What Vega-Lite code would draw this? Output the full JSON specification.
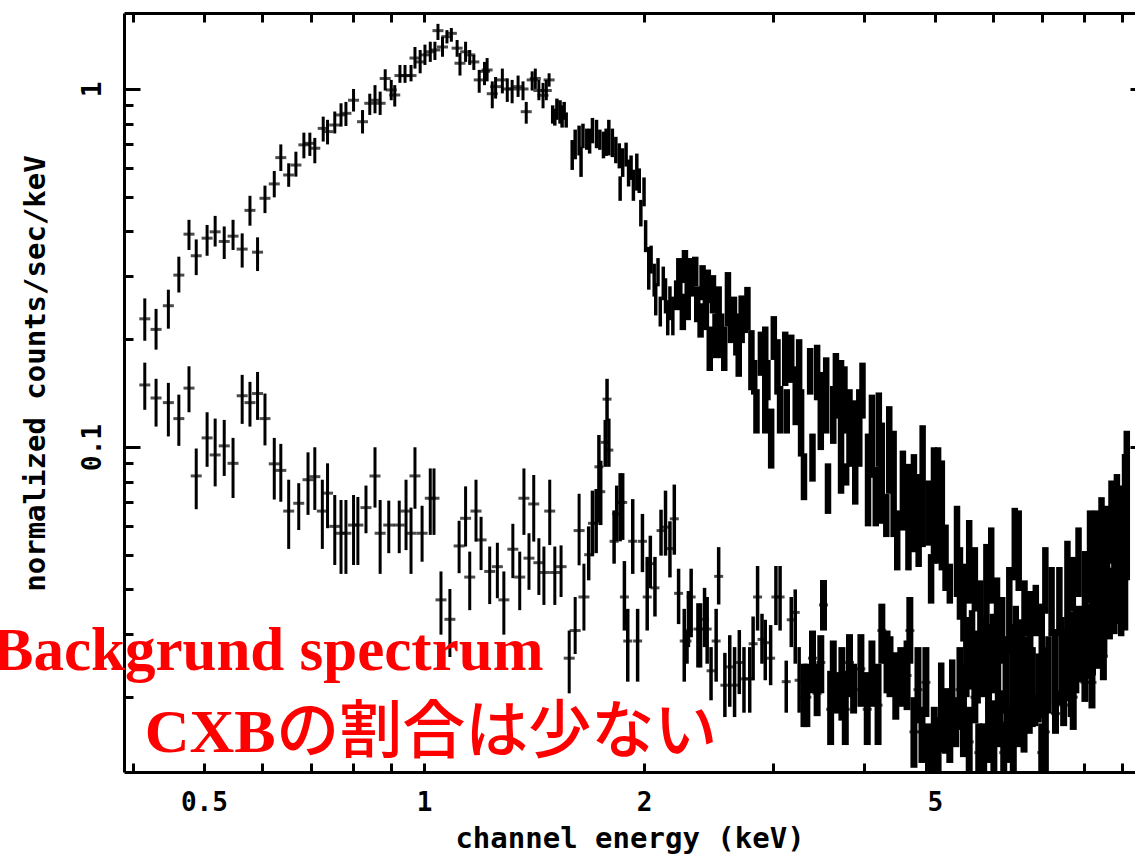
{"$schema":"https://vega.github.io/schema/vega-lite/v6.json","width":1011,"height":759,"autosize":"none","padding":{"left":124,"top":13,"right":0,"bottom":86},"background":"white","view":{"stroke":null},
"datasets":{"sparse":[
{"keV":0.415,"rate":0.228,"lo":0.198,"hi":0.26},{"keV":0.43,"rate":0.213,"lo":0.187,"hi":0.243},{"keV":0.447,"rate":0.248,"lo":0.214,"hi":0.275},{"keV":0.462,"rate":0.302,"lo":0.27,"hi":0.34},{"keV":0.477,"rate":0.393,"lo":0.355,"hi":0.431},{"keV":0.488,"rate":0.342,"lo":0.302,"hi":0.38},{"keV":0.505,"rate":0.383,"lo":0.342,"hi":0.417},{"keV":0.518,"rate":0.399,"lo":0.363,"hi":0.442},{"keV":0.533,"rate":0.375,"lo":0.335,"hi":0.413},{"keV":0.548,"rate":0.388,"lo":0.355,"hi":0.431},{"keV":0.564,"rate":0.357,"lo":0.317,"hi":0.395},{"keV":0.578,"rate":0.458,"lo":0.415,"hi":0.503},{"keV":0.592,"rate":0.35,"lo":0.31,"hi":0.385},{"keV":0.606,"rate":0.495,"lo":0.45,"hi":0.537},{"keV":0.624,"rate":0.543,"lo":0.498,"hi":0.59},{"keV":0.637,"rate":0.643,"lo":0.59,"hi":0.7},{"keV":0.653,"rate":0.575,"lo":0.533,"hi":0.62},{"keV":0.668,"rate":0.613,"lo":0.569,"hi":0.668},{"keV":0.685,"rate":0.698,"lo":0.64,"hi":0.755},{"keV":0.698,"rate":0.705,"lo":0.65,"hi":0.755},{"keV":0.709,"rate":0.683,"lo":0.62,"hi":0.73},{"keV":0.728,"rate":0.776,"lo":0.713,"hi":0.837},{"keV":0.738,"rate":0.76,"lo":0.7,"hi":0.82},{"keV":0.755,"rate":0.793,"lo":0.751,"hi":0.865},{"keV":0.77,"rate":0.846,"lo":0.785,"hi":0.912},{"keV":0.782,"rate":0.855,"lo":0.788,"hi":0.92},{"keV":0.801,"rate":0.93,"lo":0.865,"hi":1.0},{"keV":0.824,"rate":0.81,"lo":0.751,"hi":0.873},{"keV":0.843,"rate":0.912,"lo":0.846,"hi":0.97},{"keV":0.857,"rate":0.93,"lo":0.855,"hi":1.025},{"keV":0.871,"rate":0.912,"lo":0.846,"hi":0.983},{"keV":0.885,"rate":1.07,"lo":0.99,"hi":1.135},{"keV":0.902,"rate":0.994,"lo":0.93,"hi":1.06},{"keV":0.912,"rate":0.962,"lo":0.893,"hi":1.025},{"keV":0.927,"rate":1.09,"lo":1.04,"hi":1.167},{"keV":0.942,"rate":1.09,"lo":1.04,"hi":1.167},{"keV":0.96,"rate":1.09,"lo":1.05,"hi":1.167},{"keV":0.972,"rate":1.22,"lo":1.14,"hi":1.31},{"keV":0.988,"rate":1.19,"lo":1.106,"hi":1.285},{"keV":1.003,"rate":1.245,"lo":1.167,"hi":1.33},{"keV":1.02,"rate":1.27,"lo":1.19,"hi":1.355},{"keV":1.035,"rate":1.285,"lo":1.205,"hi":1.355},{"keV":1.045,"rate":1.455,"lo":1.37,"hi":1.52},{"keV":1.06,"rate":1.31,"lo":1.23,"hi":1.4},{"keV":1.075,"rate":1.4,"lo":1.34,"hi":1.46},{"keV":1.09,"rate":1.43,"lo":1.355,"hi":1.48},{"keV":1.11,"rate":1.3,"lo":1.23,"hi":1.37},{"keV":1.12,"rate":1.18,"lo":1.09,"hi":1.26},{"keV":1.14,"rate":1.27,"lo":1.19,"hi":1.355},{"keV":1.155,"rate":1.245,"lo":1.167,"hi":1.285},{"keV":1.17,"rate":1.19,"lo":1.13,"hi":1.245},{"keV":1.19,"rate":1.06,"lo":0.976,"hi":1.13},{"keV":1.21,"rate":1.12,"lo":1.025,"hi":1.19},{"keV":1.22,"rate":1.13,"lo":1.05,"hi":1.22},{"keV":1.24,"rate":0.97,"lo":0.883,"hi":1.05},{"keV":1.253,"rate":1.015,"lo":0.94,"hi":1.08},{"keV":1.28,"rate":1.06,"lo":0.972,"hi":1.14},{"keV":1.3,"rate":1.0,"lo":0.92,"hi":1.07},{"keV":1.32,"rate":1.0,"lo":0.912,"hi":1.06},{"keV":1.345,"rate":1.015,"lo":0.95,"hi":1.09},{"keV":1.366,"rate":1.0,"lo":0.93,"hi":1.05},{"keV":1.38,"rate":0.864,"lo":0.8,"hi":0.92},{"keV":1.406,"rate":1.06,"lo":0.99,"hi":1.12},{"keV":1.42,"rate":1.07,"lo":1.0,"hi":1.14},{"keV":1.436,"rate":0.99,"lo":0.93,"hi":1.06},{"keV":1.455,"rate":0.96,"lo":0.883,"hi":1.04},{"keV":1.47,"rate":0.99,"lo":0.93,"hi":1.06},{"keV":1.483,"rate":1.06,"lo":1.015,"hi":1.106},
{"keV":0.415,"rate":0.149,"lo":0.127,"hi":0.172},{"keV":0.43,"rate":0.137,"lo":0.114,"hi":0.155},{"keV":0.447,"rate":0.133,"lo":0.107,"hi":0.151},{"keV":0.462,"rate":0.12,"lo":0.1007,"hi":0.14},{"keV":0.477,"rate":0.146,"lo":0.125,"hi":0.168},{"keV":0.488,"rate":0.083,"lo":0.067,"hi":0.099},{"keV":0.505,"rate":0.106,"lo":0.088,"hi":0.125},{"keV":0.518,"rate":0.095,"lo":0.0776,"hi":0.12},{"keV":0.533,"rate":0.1007,"lo":0.083,"hi":0.119},{"keV":0.548,"rate":0.09,"lo":0.072,"hi":0.106},{"keV":0.564,"rate":0.139,"lo":0.116,"hi":0.159},{"keV":0.578,"rate":0.133,"lo":0.114,"hi":0.152},{"keV":0.592,"rate":0.141,"lo":0.119,"hi":0.162},{"keV":0.606,"rate":0.12,"lo":0.101,"hi":0.141},{"keV":0.624,"rate":0.0897,"lo":0.0713,"hi":0.106},{"keV":0.637,"rate":0.086,"lo":0.0703,"hi":0.102},{"keV":0.653,"rate":0.0662,"lo":0.0519,"hi":0.081},{"keV":0.674,"rate":0.0696,"lo":0.0586,"hi":0.0792},{"keV":0.694,"rate":0.081,"lo":0.0646,"hi":0.0966},{"keV":0.709,"rate":0.0826,"lo":0.0667,"hi":0.0998},{"keV":0.726,"rate":0.0662,"lo":0.0519,"hi":0.081},{"keV":0.738,"rate":0.0743,"lo":0.0593,"hi":0.09},{"keV":0.755,"rate":0.06,"lo":0.0468,"hi":0.0734},{"keV":0.77,"rate":0.0574,"lo":0.0442,"hi":0.0711},{"keV":0.782,"rate":0.0574,"lo":0.0442,"hi":0.0711},{"keV":0.801,"rate":0.0605,"lo":0.0468,"hi":0.0734},{"keV":0.812,"rate":0.0605,"lo":0.0468,"hi":0.0725},{"keV":0.833,"rate":0.0677,"lo":0.0574,"hi":0.078},{"keV":0.857,"rate":0.083,"lo":0.0677,"hi":0.0998},{"keV":0.871,"rate":0.0574,"lo":0.0442,"hi":0.0711},{"keV":0.895,"rate":0.0605,"lo":0.0505,"hi":0.0708},{"keV":0.925,"rate":0.0605,"lo":0.0505,"hi":0.0708},{"keV":0.945,"rate":0.0662,"lo":0.0515,"hi":0.081},{"keV":0.96,"rate":0.0574,"lo":0.0442,"hi":0.0677},{"keV":0.972,"rate":0.083,"lo":0.0672,"hi":0.0998},{"keV":0.994,"rate":0.0574,"lo":0.0478,"hi":0.0685},{"keV":1.02,"rate":0.0719,"lo":0.0568,"hi":0.0871},{"keV":1.032,"rate":0.0719,"lo":0.0568,"hi":0.0871},{"keV":1.055,"rate":0.0374,"lo":0.0299,"hi":0.0449},{"keV":1.085,"rate":0.033,"lo":0.0259,"hi":0.0401},{"keV":1.117,"rate":0.0529,"lo":0.0444,"hi":0.0622},{"keV":1.14,"rate":0.0632,"lo":0.0527,"hi":0.0776},{"keV":1.155,"rate":0.0433,"lo":0.035,"hi":0.051},{"keV":1.178,"rate":0.0662,"lo":0.0544,"hi":0.081},{"keV":1.197,"rate":0.055,"lo":0.0453,"hi":0.0638},{"keV":1.23,"rate":0.0449,"lo":0.0364,"hi":0.0527},{"keV":1.26,"rate":0.0463,"lo":0.0378,"hi":0.054},{"keV":1.286,"rate":0.0374,"lo":0.0299,"hi":0.0449},{"keV":1.323,"rate":0.0518,"lo":0.043,"hi":0.061},{"keV":1.352,"rate":0.0433,"lo":0.035,"hi":0.051},{"keV":1.37,"rate":0.0719,"lo":0.0568,"hi":0.0871},{"keV":1.392,"rate":0.0489,"lo":0.0399,"hi":0.0574},{"keV":1.413,"rate":0.0693,"lo":0.0544,"hi":0.0835},{"keV":1.436,"rate":0.0475,"lo":0.0386,"hi":0.0556},{"keV":1.459,"rate":0.0446,"lo":0.0362,"hi":0.0527},{"keV":1.486,"rate":0.0662,"lo":0.0532,"hi":0.081},{"keV":1.51,"rate":0.0446,"lo":0.0362,"hi":0.0527},{"keV":1.54,"rate":0.0463,"lo":0.0381,"hi":0.0531},{"keV":1.58,"rate":0.0257,"lo":0.0205,"hi":0.0307},{"keV":1.61,"rate":0.0307,"lo":0.0264,"hi":0.0381},{"keV":1.63,"rate":0.0584,"lo":0.0467,"hi":0.074},{"keV":1.655,"rate":0.0381,"lo":0.0307,"hi":0.0472}
],
"dense":[
{"keV":1.5,"lo":0.8,"hi":0.9},{"keV":1.51,"lo":0.79,"hi":0.88},{"keV":1.52,"lo":0.82,"hi":0.94},{"keV":1.535,"lo":0.8,"hi":0.93},{"keV":1.545,"lo":0.78,"hi":0.9},{"keV":1.555,"lo":0.82,"hi":0.92},{"keV":1.565,"lo":0.78,"hi":0.86},
{"keV":1.595,"lo":0.594,"hi":0.72},{"keV":1.61,"lo":0.636,"hi":0.77},{"keV":1.63,"lo":0.652,"hi":0.79},{"keV":1.64,"lo":0.568,"hi":0.69},{"keV":1.65,"lo":0.683,"hi":0.8},{"keV":1.67,"lo":0.676,"hi":0.775},{"keV":1.685,"lo":0.66,"hi":0.775},{"keV":1.7,"lo":0.705,"hi":0.83},{"keV":1.722,"lo":0.683,"hi":0.82},{"keV":1.74,"lo":0.676,"hi":0.77},{"keV":1.76,"lo":0.64,"hi":0.76},{"keV":1.775,"lo":0.65,"hi":0.775},{"keV":1.79,"lo":0.652,"hi":0.82},{"keV":1.81,"lo":0.645,"hi":0.775},{"keV":1.83,"lo":0.62,"hi":0.735},{"keV":1.85,"lo":0.6,"hi":0.705},{"keV":1.855,"lo":0.487,"hi":0.57},{"keV":1.87,"lo":0.568,"hi":0.683},{"keV":1.89,"lo":0.607,"hi":0.708},{"keV":1.905,"lo":0.534,"hi":0.635},{"keV":1.92,"lo":0.557,"hi":0.652},{"keV":1.934,"lo":0.487,"hi":0.595},{"keV":1.955,"lo":0.52,"hi":0.66},{"keV":1.97,"lo":0.512,"hi":0.6},{"keV":1.98,"lo":0.413,"hi":0.49},{"keV":2.0,"lo":0.47,"hi":0.566},{"keV":2.01,"lo":0.35,"hi":0.43},{"keV":2.03,"lo":0.275,"hi":0.362},{"keV":2.045,"lo":0.305,"hi":0.365},{"keV":2.065,"lo":0.263,"hi":0.325},{"keV":2.075,"lo":0.233,"hi":0.287},{"keV":2.09,"lo":0.281,"hi":0.337},{"keV":2.105,"lo":0.217,"hi":0.263},{"keV":2.125,"lo":0.257,"hi":0.319},{"keV":2.14,"lo":0.236,"hi":0.296},{"keV":2.155,"lo":0.205,"hi":0.257},{"keV":2.17,"lo":0.226,"hi":0.281},{"keV":2.19,"lo":0.205,"hi":0.263},{"keV":2.22,"lo":0.241,"hi":0.292},{"keV":2.235,"lo":0.257,"hi":0.337},{"keV":2.26,"lo":0.212,"hi":0.268},{"keV":2.275,"lo":0.287,"hi":0.355},{"keV":2.295,"lo":0.226,"hi":0.3},{"keV":2.32,"lo":0.263,"hi":0.337},{"keV":2.35,"lo":0.281,"hi":0.34},{"keV":2.365,"lo":0.223,"hi":0.281},{"keV":2.39,"lo":0.202,"hi":0.252},{"keV":2.405,"lo":0.257,"hi":0.322},{"keV":2.43,"lo":0.212,"hi":0.275},{"keV":2.445,"lo":0.252,"hi":0.313},{"keV":2.46,"lo":0.163,"hi":0.217},{"keV":2.485,"lo":0.236,"hi":0.302},{"keV":2.505,"lo":0.177,"hi":0.236},{"keV":2.53,"lo":0.217,"hi":0.281},{"keV":2.55,"lo":0.177,"hi":0.236},{"keV":2.575,"lo":0.163,"hi":0.217},{"keV":2.605,"lo":0.217,"hi":0.308},{"keV":2.63,"lo":0.195,"hi":0.257},{"keV":2.655,"lo":0.208,"hi":0.263},{"keV":2.675,"lo":0.18,"hi":0.236},{"keV":2.695,"lo":0.157,"hi":0.212},{"keV":2.72,"lo":0.195,"hi":0.265},{"keV":2.75,"lo":0.208,"hi":0.257},{"keV":2.77,"lo":0.212,"hi":0.28},{"keV":2.805,"lo":0.144,"hi":0.212},{"keV":2.83,"lo":0.14,"hi":0.175},{"keV":2.85,"lo":0.109,"hi":0.145},{"keV":2.89,"lo":0.158,"hi":0.21},{"keV":2.93,"lo":0.109,"hi":0.217},{"keV":2.95,"lo":0.135,"hi":0.175},{"keV":2.985,"lo":0.087,"hi":0.128},{"keV":3.01,"lo":0.175,"hi":0.232},{"keV":3.045,"lo":0.14,"hi":0.2},{"keV":3.07,"lo":0.109,"hi":0.148},{"keV":3.12,"lo":0.148,"hi":0.21},{"keV":3.135,"lo":0.109,"hi":0.145},{"keV":3.18,"lo":0.151,"hi":0.206},{"keV":3.225,"lo":0.115,"hi":0.168},{"keV":3.26,"lo":0.14,"hi":0.2},{"keV":3.28,"lo":0.094,"hi":0.145},{"keV":3.31,"lo":0.071,"hi":0.096},{"keV":3.375,"lo":0.14,"hi":0.189},{"keV":3.4,"lo":0.08,"hi":0.109},{"keV":3.45,"lo":0.135,"hi":0.193},{"keV":3.49,"lo":0.098,"hi":0.162},{"keV":3.55,"lo":0.109,"hi":0.178},{"keV":3.57,"lo":0.065,"hi":0.09},{"keV":3.63,"lo":0.102,"hi":0.148},{"keV":3.66,"lo":0.12,"hi":0.183},{"keV":3.72,"lo":0.074,"hi":0.175},{"keV":3.76,"lo":0.109,"hi":0.168},{"keV":3.78,"lo":0.078,"hi":0.09},{"keV":3.82,"lo":0.088,"hi":0.145},{"keV":3.89,"lo":0.069,"hi":0.135},{"keV":3.94,"lo":0.088,"hi":0.145},{"keV":3.98,"lo":0.12,"hi":0.172},{"keV":4.05,"lo":0.06,"hi":0.109},{"keV":4.1,"lo":0.082,"hi":0.14},{"keV":4.15,"lo":0.06,"hi":0.088},{"keV":4.19,"lo":0.088,"hi":0.142},{"keV":4.23,"lo":0.061,"hi":0.117},{"keV":4.29,"lo":0.056,"hi":0.074},{"keV":4.33,"lo":0.074,"hi":0.13},{"keV":4.39,"lo":0.056,"hi":0.111},{"keV":4.44,"lo":0.0452,"hi":0.0665},{"keV":4.52,"lo":0.0584,"hi":0.0977},{"keV":4.6,"lo":0.0452,"hi":0.0897},{"keV":4.68,"lo":0.0508,"hi":0.0955},{"keV":4.75,"lo":0.0462,"hi":0.084},{"keV":4.81,"lo":0.0525,"hi":0.115},{"keV":4.9,"lo":0.053,"hi":0.0806},{"keV":4.94,"lo":0.0365,"hi":0.0502},{"keV":4.985,"lo":0.0472,"hi":0.0998},{"keV":5.05,"lo":0.0472,"hi":0.0998},{"keV":5.11,"lo":0.0452,"hi":0.0917},{"keV":5.17,"lo":0.0396,"hi":0.0607},{"keV":5.24,"lo":0.0365,"hi":0.0472},{"keV":5.36,"lo":0.0381,"hi":0.0685},{"keV":5.41,"lo":0.0329,"hi":0.0525},{"keV":5.47,"lo":0.0286,"hi":0.0472},{"keV":5.57,"lo":0.0365,"hi":0.0625},{"keV":5.67,"lo":0.0347,"hi":0.0525},{"keV":5.77,"lo":0.0276,"hi":0.0424},{"keV":5.88,"lo":0.0318,"hi":0.0536},{"keV":5.97,"lo":0.0365,"hi":0.0596},{"keV":6.08,"lo":0.0296,"hi":0.0432},{"keV":6.18,"lo":0.0248,"hi":0.0381},{"keV":6.32,"lo":0.0265,"hi":0.0462},{"keV":6.43,"lo":0.0424,"hi":0.0676},{"keV":6.51,"lo":0.0396,"hi":0.0665},{"keV":6.63,"lo":0.0296,"hi":0.0424},{"keV":6.75,"lo":0.0265,"hi":0.0396},{"keV":6.87,"lo":0.0296,"hi":0.0412},{"keV":7.0,"lo":0.0237,"hi":0.0365},{"keV":7.08,"lo":0.0342,"hi":0.0525},{"keV":7.22,"lo":0.0296,"hi":0.0462},{"keV":7.4,"lo":0.0296,"hi":0.0462},{"keV":7.59,"lo":0.0307,"hi":0.0547},{"keV":7.72,"lo":0.0347,"hi":0.0493},{"keV":7.86,"lo":0.0381,"hi":0.0596},{"keV":8.02,"lo":0.0325,"hi":0.0512},{"keV":8.15,"lo":0.0365,"hi":0.0665},{"keV":8.3,"lo":0.0365,"hi":0.0665},{"keV":8.45,"lo":0.0381,"hi":0.0724},{"keV":8.6,"lo":0.0396,"hi":0.0685},{"keV":8.72,"lo":0.0472,"hi":0.0806},{"keV":8.87,"lo":0.0472,"hi":0.084},{"keV":8.99,"lo":0.0296,"hi":0.078},{"keV":9.1,"lo":0.0307,"hi":0.0955},{"keV":9.15,"lo":0.0424,"hi":0.111},
{"keV":5.1,"lo":0.014,"hi":0.025},{"keV":5.28,"lo":0.0155,"hi":0.0255},{"keV":5.52,"lo":0.02,"hi":0.0335},{"keV":5.62,"lo":0.021,"hi":0.035},{"keV":5.72,"lo":0.0192,"hi":0.0307},{"keV":5.82,"lo":0.02,"hi":0.0335},{"keV":5.92,"lo":0.018,"hi":0.032},{"keV":6.0,"lo":0.0205,"hi":0.0342},{"keV":6.1,"lo":0.019,"hi":0.032},{"keV":6.25,"lo":0.018,"hi":0.0296},{"keV":6.38,"lo":0.018,"hi":0.032},{"keV":6.45,"lo":0.017,"hi":0.036},{"keV":6.57,"lo":0.018,"hi":0.033},{"keV":6.68,"lo":0.017,"hi":0.0296},{"keV":6.8,"lo":0.0165,"hi":0.0276},{"keV":6.93,"lo":0.017,"hi":0.0265},{"keV":7.04,"lo":0.0175,"hi":0.0276},{"keV":7.15,"lo":0.018,"hi":0.0296},{"keV":7.3,"lo":0.019,"hi":0.031},{"keV":7.45,"lo":0.019,"hi":0.0335},{"keV":7.53,"lo":0.0195,"hi":0.031},{"keV":7.65,"lo":0.02,"hi":0.0347},{"keV":7.8,"lo":0.0205,"hi":0.036},{"keV":7.95,"lo":0.022,"hi":0.036},{"keV":8.08,"lo":0.0225,"hi":0.0365},{"keV":8.22,"lo":0.023,"hi":0.038},{"keV":8.38,"lo":0.024,"hi":0.04},{"keV":8.52,"lo":0.026,"hi":0.042},{"keV":8.67,"lo":0.029,"hi":0.046},{"keV":8.8,"lo":0.03,"hi":0.048},{"keV":8.93,"lo":0.032,"hi":0.055},
{"keV":1.68,"rate":0.05,"lo":0.0424,"hi":0.06},{"keV":1.7,"rate":0.0612,"lo":0.0495,"hi":0.0755},{"keV":1.72,"rate":0.0612,"lo":0.0505,"hi":0.0763},{"keV":1.735,"rate":0.088,"lo":0.0616,"hi":0.108},{"keV":1.745,"rate":0.075,"lo":0.0605,"hi":0.0915},{"keV":1.78,"rate":0.136,"lo":0.118,"hi":0.155},{"keV":1.77,"rate":0.103,"lo":0.088,"hi":0.119},{"keV":1.79,"rate":0.098,"lo":0.088,"hi":0.12},{"keV":1.82,"rate":0.0545,"lo":0.0472,"hi":0.0665},{"keV":1.835,"rate":0.065,"lo":0.0545,"hi":0.078},{"keV":1.855,"rate":0.07,"lo":0.0545,"hi":0.0845},{"keV":1.87,"rate":0.07,"lo":0.055,"hi":0.0845},{"keV":1.88,"rate":0.0381,"lo":0.0307,"hi":0.048},{"keV":1.9,"rate":0.0287,"lo":0.0221,"hi":0.0353},{"keV":1.93,"rate":0.0545,"lo":0.0442,"hi":0.0715},{"keV":1.96,"rate":0.0287,"lo":0.0221,"hi":0.0353},{"keV":1.99,"rate":0.0545,"lo":0.0447,"hi":0.065},{"keV":2.02,"rate":0.0381,"lo":0.0307,"hi":0.0493},{"keV":2.04,"rate":0.0472,"lo":0.0403,"hi":0.0565},{"keV":2.07,"rate":0.0404,"lo":0.0336,"hi":0.0493},{"keV":2.11,"rate":0.0584,"lo":0.0497,"hi":0.0668},{"keV":2.14,"rate":0.0597,"lo":0.0497,"hi":0.0755},{"keV":2.17,"rate":0.052,"lo":0.0432,"hi":0.062},{"keV":2.2,"rate":0.063,"lo":0.05,"hi":0.0785},{"keV":2.23,"rate":0.039,"lo":0.032,"hi":0.0457},{"keV":2.27,"rate":0.0287,"lo":0.0221,"hi":0.0353},{"keV":2.29,"rate":0.0287,"lo":0.0248,"hi":0.0307},{"keV":2.3,"rate":0.0307,"lo":0.0276,"hi":0.0396},{"keV":2.32,"rate":0.0381,"lo":0.0294,"hi":0.0457},{"keV":2.37,"rate":0.031,"lo":0.0242,"hi":0.0366},{"keV":2.39,"rate":0.031,"lo":0.0242,"hi":0.0366},{"keV":2.42,"rate":0.033,"lo":0.0276,"hi":0.0404},{"keV":2.44,"rate":0.031,"lo":0.0248,"hi":0.0381},{"keV":2.47,"rate":0.0237,"lo":0.0196,"hi":0.0276},{"keV":2.51,"rate":0.0287,"lo":0.0221,"hi":0.0353},{"keV":2.53,"rate":0.0435,"lo":0.0363,"hi":0.0525},{"keV":2.58,"rate":0.0216,"lo":0.0176,"hi":0.0266},{"keV":2.62,"rate":0.0243,"lo":0.0188,"hi":0.0298},{"keV":2.66,"rate":0.0216,"lo":0.0176,"hi":0.0276},{"keV":2.7,"rate":0.025,"lo":0.0204,"hi":0.0308},{"keV":2.74,"rate":0.0225,"lo":0.0181,"hi":0.0276},{"keV":2.79,"rate":0.0225,"lo":0.0181,"hi":0.0276},{"keV":2.82,"rate":0.0282,"lo":0.0223,"hi":0.0336},{"keV":2.86,"rate":0.0381,"lo":0.0307,"hi":0.0465},{"keV":2.9,"rate":0.029,"lo":0.0248,"hi":0.0342},{"keV":2.93,"rate":0.0284,"lo":0.0223,"hi":0.0329},{"keV":2.98,"rate":0.0257,"lo":0.0216,"hi":0.0318},{"keV":3.03,"rate":0.0381,"lo":0.0318,"hi":0.0465},{"keV":3.07,"rate":0.0381,"lo":0.0307,"hi":0.0465},{"keV":3.13,"rate":0.0221,"lo":0.0181,"hi":0.0253},{"keV":3.18,"rate":0.0329,"lo":0.0276,"hi":0.0381},{"keV":3.22,"rate":0.0345,"lo":0.0248,"hi":0.04},{"keV":3.26,"rate":0.0223,"lo":0.0181,"hi":0.0276},{"keV":3.31,"rate":0.02,"lo":0.0165,"hi":0.0248},{"keV":3.34,"rate":0.02,"lo":0.0165,"hi":0.0248},{"keV":3.4,"rate":0.0257,"lo":0.0205,"hi":0.0307},{"keV":3.45,"rate":0.0205,"lo":0.0177,"hi":0.0248},{"keV":3.49,"rate":0.025,"lo":0.0205,"hi":0.0298},{"keV":3.52,"rate":0.0362,"lo":0.0307,"hi":0.0425},{"keV":3.6,"rate":0.0185,"lo":0.0147,"hi":0.0237},{"keV":3.63,"rate":0.023,"lo":0.0189,"hi":0.0288},{"keV":3.67,"rate":0.021,"lo":0.018,"hi":0.0235},{"keV":3.73,"rate":0.022,"lo":0.0172,"hi":0.0276},{"keV":3.77,"rate":0.0185,"lo":0.0147,"hi":0.0237},{"keV":3.82,"rate":0.025,"lo":0.02,"hi":0.03},{"keV":3.87,"rate":0.021,"lo":0.018,"hi":0.0248},{"keV":3.96,"rate":0.024,"lo":0.0188,"hi":0.03},{"keV":4.04,"rate":0.0185,"lo":0.0147,"hi":0.0235},{"keV":4.1,"rate":0.023,"lo":0.0188,"hi":0.0288},{"keV":4.18,"rate":0.019,"lo":0.0147,"hi":0.0248},{"keV":4.23,"rate":0.0307,"lo":0.0248,"hi":0.0365},{"keV":4.3,"rate":0.025,"lo":0.0205,"hi":0.0307},{"keV":4.34,"rate":0.024,"lo":0.02,"hi":0.0296},{"keV":4.42,"rate":0.021,"lo":0.0173,"hi":0.0267},{"keV":4.49,"rate":0.023,"lo":0.0188,"hi":0.0276},{"keV":4.58,"rate":0.023,"lo":0.0184,"hi":0.0288},{"keV":4.62,"rate":0.0307,"lo":0.0248,"hi":0.0381},{"keV":4.68,"rate":0.016,"lo":0.0127,"hi":0.02},{"keV":4.74,"rate":0.021,"lo":0.0169,"hi":0.0276},{"keV":4.8,"rate":0.016,"lo":0.0131,"hi":0.0188},{"keV":4.86,"rate":0.022,"lo":0.0176,"hi":0.0276},{"keV":4.9,"rate":0.0145,"lo":0.0122,"hi":0.0169},{"keV":4.99,"rate":0.015,"lo":0.012,"hi":0.0188},{"keV":5.05,"rate":0.0145,"lo":0.012,"hi":0.0176},{"keV":5.17,"rate":0.017,"lo":0.0139,"hi":0.0212},{"keV":5.24,"rate":0.016,"lo":0.0131,"hi":0.02},{"keV":5.34,"rate":0.017,"lo":0.0145,"hi":0.02},{"keV":5.41,"rate":0.021,"lo":0.0162,"hi":0.0276},{"keV":5.47,"rate":0.018,"lo":0.0136,"hi":0.0248},{"keV":5.57,"rate":0.015,"lo":0.012,"hi":0.0188},{"keV":5.67,"rate":0.02,"lo":0.0169,"hi":0.0248},{"keV":5.74,"rate":0.014,"lo":0.012,"hi":0.0169},{"keV":5.83,"rate":0.014,"lo":0.012,"hi":0.0169},{"keV":5.92,"rate":0.016,"lo":0.0131,"hi":0.0209},{"keV":6.02,"rate":0.015,"lo":0.012,"hi":0.0196},{"keV":6.14,"rate":0.017,"lo":0.0145,"hi":0.0209},{"keV":6.21,"rate":0.014,"lo":0.012,"hi":0.0169},{"keV":6.28,"rate":0.0155,"lo":0.0131,"hi":0.0188},{"keV":6.4,"rate":0.015,"lo":0.012,"hi":0.02},{"keV":6.5,"rate":0.017,"lo":0.0145,"hi":0.02},{"keV":6.62,"rate":0.016,"lo":0.014,"hi":0.0185},{"keV":6.73,"rate":0.018,"lo":0.0158,"hi":0.02},{"keV":6.85,"rate":0.0185,"lo":0.0166,"hi":0.0204},{"keV":7.0,"rate":0.014,"lo":0.012,"hi":0.0169},{"keV":7.08,"rate":0.016,"lo":0.012,"hi":0.0209},{"keV":7.31,"rate":0.018,"lo":0.0158,"hi":0.0209},{"keV":7.5,"rate":0.019,"lo":0.0166,"hi":0.0218},{"keV":7.68,"rate":0.02,"lo":0.0176,"hi":0.0226},{"keV":7.73,"rate":0.02,"lo":0.0162,"hi":0.0237},{"keV":8.02,"rate":0.022,"lo":0.0194,"hi":0.0248},{"keV":8.2,"rate":0.022,"lo":0.0186,"hi":0.0248},{"keV":8.5,"rate":0.026,"lo":0.0223,"hi":0.0307}
],
"notes":[{"keV":0.612,"rate":0.0238,"label":"Backgrund spectrum"}],
"cxb":[{"keV":0.415,"rate":0.01406,"label":"CXB"}],
"jp":[{"keV":0.628,"rate":0.01406,"label":"の割合は少ない"}]},
"layer":[
{"data":{"name":"sparse"},"mark":{"type":"rule","strokeWidth":3,"color":"black","clip":true},"encoding":{"x":{"field":"keV","type":"quantitative","scale":{"type":"log","domain":[0.3887,9.39],"nice":false},"axis":{"orient":"bottom","title":"channel energy (keV)","values":[0.4,0.5,0.6,0.7,0.8,0.9,1,2,3,4,5,6,7,8,9],"labelExpr":"indexof([0.5,1,2,5],datum.value)>=0?datum.value+'':''","labelFlush":false,"labelOverlap":false,"grid":false,"domainWidth":3,"domainColor":"black","tickColor":"black","tickWidth":3,"tickSize":-9,"labelFont":"DejaVu Sans Mono","labelFontWeight":"bold","labelFontSize":26,"labelColor":"black","labelPadding":26,"titleFont":"DejaVu Sans Mono","titleFontWeight":"bold","titleFontSize":29,"titleColor":"black","titlePadding":9}},"y":{"field":"lo","type":"quantitative","scale":{"type":"log","domain":[0.01236,1.63],"nice":false},"axis":{"orient":"left","title":"normalized counts/sec/keV","titleX":-89,"titleY":360,"titleAngle":-90,"titleAlign":"center","titleBaseline":"middle","values":[0.1,1],"grid":false,"domainWidth":3,"domainColor":"black","tickColor":"black","tickWidth":3,"tickSize":-16,"labelAngle":-90,"labelAlign":"center","labelBaseline":"middle","labelFont":"DejaVu Sans Mono","labelFontWeight":"bold","labelFontSize":26,"labelColor":"black","labelPadding":48,"titleFont":"DejaVu Sans Mono","titleFontWeight":"bold","titleFontSize":29,"titleColor":"black"}},"y2":{"field":"hi"}}},
{"data":{"name":"sparse"},"mark":{"type":"tick","orient":"horizontal","size":11,"thickness":3,"color":"black","clip":true},"encoding":{"x":{"field":"keV","type":"quantitative","axis":{"orient":"top","values":[0.4,0.5,0.6,0.7,0.8,0.9,1,2,3,4,5,6,7,8,9],"labels":false,"title":null,"grid":false,"domainWidth":3,"domainColor":"black","tickColor":"black","tickWidth":3,"tickSize":-9}},"y":{"field":"rate","type":"quantitative","axis":{"orient":"left","values":[0.02,0.03,0.04,0.05,0.06,0.07,0.08,0.09,0.2,0.3,0.4,0.5,0.6,0.7,0.8,0.9],"labels":false,"title":null,"grid":false,"domain":false,"tickColor":"black","tickWidth":3,"tickSize":-9}}}},
{"data":{"name":"dense"},"transform":[{"filter":"!isValid(datum.rate) && datum.keV<2.2"}],"mark":{"type":"rule","strokeWidth":3.5,"color":"black","clip":true},"encoding":{"x":{"field":"keV","type":"quantitative","axis":null},"y":{"field":"lo","type":"quantitative","axis":{"orient":"right","values":[0.1,1],"labels":false,"title":null,"grid":false,"domain":false,"tickColor":"black","tickWidth":3,"tickSize":-5}},"y2":{"field":"hi"}}},
{"data":{"name":"dense"},"transform":[{"filter":"!isValid(datum.rate) && datum.keV>=2.2"}],"mark":{"type":"rule","strokeWidth":6.5,"color":"black","clip":true},"encoding":{"x":{"field":"keV","type":"quantitative","axis":null},"y":{"field":"lo","type":"quantitative","axis":null},"y2":{"field":"hi"}}},
{"data":{"name":"dense"},"transform":[{"filter":"isValid(datum.rate) && datum.keV<3.3"}],"mark":{"type":"rule","strokeWidth":3.5,"color":"black","clip":true},"encoding":{"x":{"field":"keV","type":"quantitative","axis":null},"y":{"field":"lo","type":"quantitative","axis":null},"y2":{"field":"hi"}}},
{"data":{"name":"dense"},"transform":[{"filter":"isValid(datum.rate) && datum.keV>=3.3"}],"mark":{"type":"rule","strokeWidth":7,"color":"black","clip":true},"encoding":{"x":{"field":"keV","type":"quantitative","axis":null},"y":{"field":"lo","type":"quantitative","axis":null},"y2":{"field":"hi"}}},
{"data":{"name":"dense"},"transform":[{"filter":{"field":"rate","valid":true}}],"mark":{"type":"tick","orient":"horizontal","size":9,"thickness":3,"color":"black","clip":true},"encoding":{"x":{"field":"keV","type":"quantitative","axis":null},"y":{"field":"rate","type":"quantitative","axis":null}}},
{"data":{"name":"notes"},"mark":{"type":"text","font":"Liberation Serif","fontWeight":"bold","fontSize":61,"color":"#ff0000","align":"center","baseline":"alphabetic"},"encoding":{"x":{"field":"keV","type":"quantitative","axis":null},"y":{"field":"rate","type":"quantitative","axis":null},"text":{"field":"label"}}},
{"data":{"name":"cxb"},"mark":{"type":"text","font":"Liberation Serif","fontWeight":"bold","fontSize":62,"color":"#ff0000","align":"left","baseline":"alphabetic"},"encoding":{"x":{"field":"keV","type":"quantitative","axis":null},"y":{"field":"rate","type":"quantitative","axis":null},"text":{"field":"label"}}},
{"data":{"name":"jp"},"mark":{"type":"text","font":"Noto Sans CJK JP","fontWeight":500,"fontSize":63,"color":"#ff0000","align":"left","baseline":"alphabetic"},"encoding":{"x":{"field":"keV","type":"quantitative","axis":null},"y":{"field":"rate","type":"quantitative","axis":null},"text":{"field":"label"}}}
],
"resolve":{"axis":{"x":"independent","y":"independent"}}}
